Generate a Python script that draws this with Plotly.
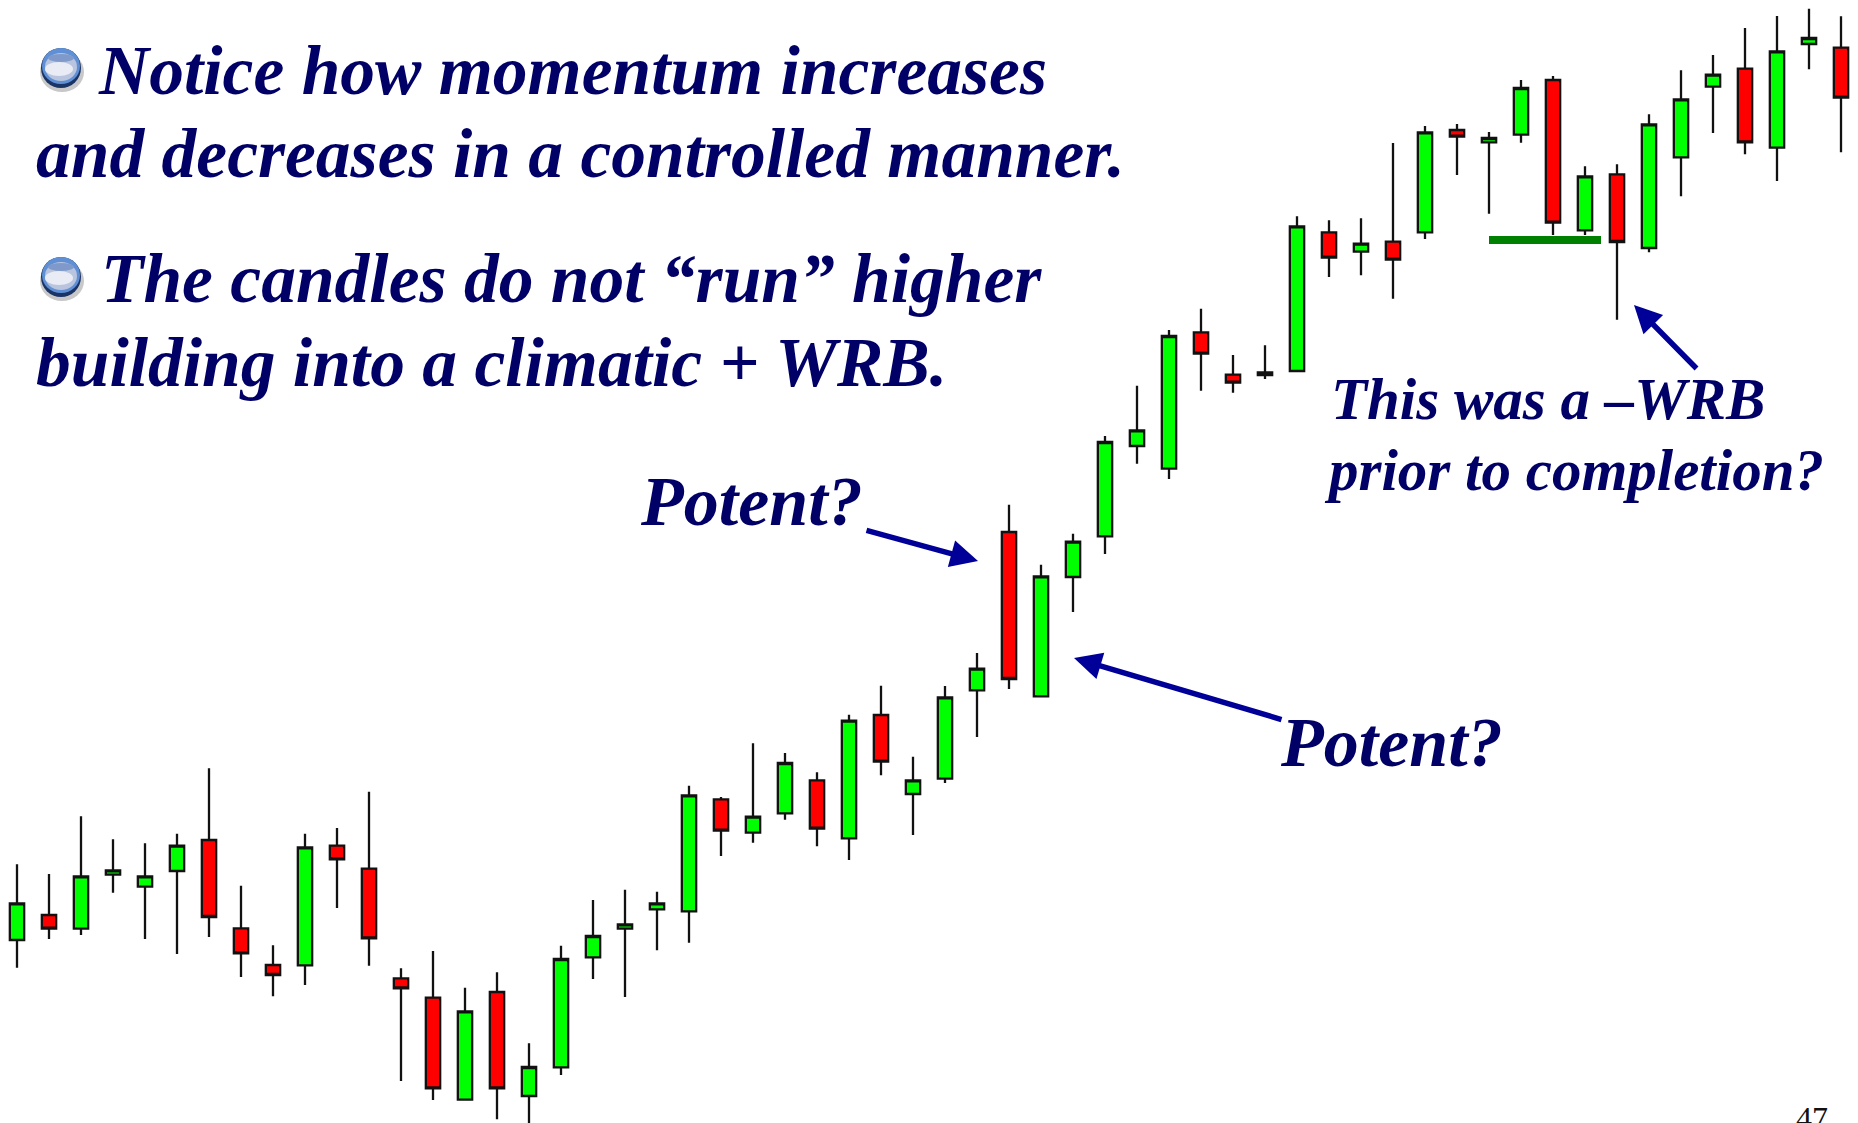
import plotly.graph_objects as go

W, H = 1858, 1123

candle_index = list(range(58))
highs = [258.7,249,306.7,283.7,279.7,289.3,354.7,237.3,177.7,289.3,295,331.3,154.7,172,135.3,150.7,79.7,177.3,223,233.3,231.3,337.3,326,379.7,370,350.7,408.3,437.3,366.3,437,470,618.3,558.3,589.3,687,737.3,793,814.3,768,777.7,906.7,902.7,904.7,980,997,999,991,1043,1047,956.7,958.7,1008.7,1052.7,1068,1095,1107,1114.3,1106.7]
opens = [183,208,194.3,248.3,236.3,252,283,194.7,158,157.7,277.3,254.3,144.7,125.3,23.3,131,27,55.7,165.7,194.3,213.7,211.7,323.7,290.3,309.7,342.7,284.7,408,329,344.3,432.7,591,426.7,546,586.7,677,654.3,790.7,748.3,748,752,890.7,871.3,881.3,890.7,993,980.7,988.3,1043,892.7,948.7,875,965.7,1036.3,1054.3,975.3,1079,1075.3]
closes = [219.7,194.3,246.7,252.7,246.7,277.3,206,169.7,148,275.7,263.7,184.7,134.7,34.7,111.7,34.7,56,164,187,198.7,219.7,327.7,292.3,306.3,360,294.3,402.3,361.3,342.7,425.7,454.3,444,546.7,581.3,681,692.7,787,769.3,740.3,750.7,896.7,865.3,879.3,863.3,990.7,986.3,985,1035,900.3,946.7,881,998.7,1023.7,1048.3,980.7,1071.7,1085,1025.3]
lows = [155.3,184,188,230.3,184,169,186,146,126.7,138,215,157.3,42,23,23.3,3.7,-3,48,144,126,172.7,180.3,267,280.3,303.3,276.7,263,347.7,288,340,386,434,426.7,511,569,659.3,644,732.3,730.3,744,752,846,847.7,824.3,884,948,909.3,980.3,888,888,803.3,870.7,926.7,990,968.7,942,1053.7,970.7]

support_x = [46, 49.5]
support_y = [883, 883]

bullets_text = [
    ("Notice how momentum increases", 96, 70),
    ("and decreases in a controlled manner.", 34, 153),
    ("The candles do not \u201crun\u201d higher", 99, 278),
    ("building into a climatic + WRB.", 34, 362),
]
small_notes = [
    ("This was a \u2013WRB", 1329, 399),
    ("prior to completion?", 1322, 470),
]
potent_notes = [("Potent?", 638, 501), ("Potent?", 1278, 742)]
arrows = [
    (865, 530, 978, 561),
    (1283, 720, 1074, 658),
    (1698, 370, 1634, 305),
]
bullet_centers = [(61, 68), (61, 277)]

NAVY = "#000066"
ARROW = "#000099"
FONT = "Liberation Serif"


def px(x):
    return x / W


def py(y):
    return 1 - y / H


def circle(cx, cy, rx, ry, color):
    return dict(type="circle", xref="paper", yref="paper", layer="above",
                x0=px(cx - rx), x1=px(cx + rx), y0=py(cy + ry), y1=py(cy - ry),
                fillcolor=color, line=dict(width=0))


fig = go.Figure()
fig.add_trace(go.Candlestick(
    x=candle_index, open=opens, high=highs, low=lows, close=closes,
    increasing=dict(fillcolor="#00ff00", line=dict(color="#111111", width=2.3)),
    decreasing=dict(fillcolor="#ff0000", line=dict(color="#111111", width=2.3)),
    whiskerwidth=0, showlegend=False, hoverinfo="skip",
))
fig.add_trace(go.Scatter(
    x=support_x, y=support_y, mode="lines",
    line=dict(color="#008000", width=8), showlegend=False, hoverinfo="skip",
))

annotations = []
for txt, x, y in bullets_text:
    annotations.append(dict(text=txt, x=px(x), y=py(y), font=dict(size=69.5)))
for txt, x, y in potent_notes:
    annotations.append(dict(text=txt, x=px(x), y=py(y), font=dict(size=70)))
for txt, x, y in small_notes:
    annotations.append(dict(text=txt, x=px(x), y=py(y), font=dict(size=59)))
for a in annotations:
    a.update(xref="paper", yref="paper", xanchor="left", yanchor="middle",
             showarrow=False)
    a["font"].update(family=FONT, color=NAVY)
    a["text"] = "<b><i>" + a["text"] + "</i></b>"
annotations.append(dict(text="47", xref="paper", yref="paper", x=px(1794), y=py(1098),
                        xanchor="left", yanchor="top", showarrow=False,
                        font=dict(family=FONT, size=32, color="#111111")))
for x0, y0, x1, y1 in arrows:
    annotations.append(dict(
        x=px(x1), y=py(y1), ax=x0 - x1, ay=y0 - y1, xref="paper", yref="paper",
        axref="pixel", ayref="pixel", text="", showarrow=True, arrowhead=2,
        arrowsize=1.0, arrowwidth=5.5, arrowcolor=ARROW, standoff=0,
    ))

shapes = []
for cx, cy in bullet_centers:
    shapes += [
        circle(cx + 1, cy + 4, 22, 20, "#c8c8c8"),
        circle(cx, cy, 20, 20, "#1b3466"),
        circle(cx, cy - 2, 19, 18, "#5f8fd4"),
        circle(cx, cy - 1, 16, 14, "#b9c4de"),
        circle(cx, cy - 10, 13, 4, "#7f9aca"),
        circle(cx - 2, cy + 1, 14, 7, "#e9ecf5"),
    ]

fig.update_layout(
    width=W, height=H, margin=dict(l=0, r=0, t=0, b=0),
    paper_bgcolor="white", plot_bgcolor="white", boxgap=0.36,
    showlegend=False, annotations=annotations, shapes=shapes,
    xaxis=dict(visible=False, range=[-17 / 32, (W - 17) / 32],
               rangeslider=dict(visible=False)),
    yaxis=dict(visible=False, range=[0, H]),
)
fig.write_html("out.html", config=dict(displayModeBar=False),
               post_script="document.body.style.margin='0';document.body.style.overflow='hidden';")
